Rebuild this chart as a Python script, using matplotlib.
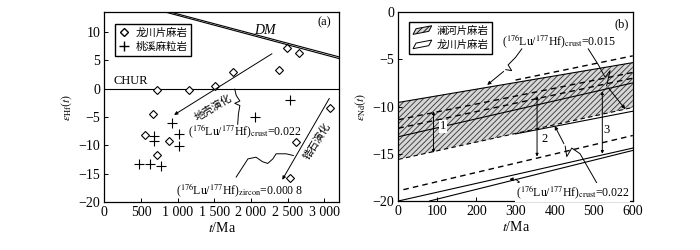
import numpy as np
import matplotlib.pyplot as plt
from matplotlib.patches import Polygon
from matplotlib.lines import Line2D
from matplotlib.legend_handler import HandlerPatch

plt.rcParams['font.family'] = ['Liberation Serif', 'Noto Sans CJK SC']
plt.rcParams['mathtext.fontset'] = 'stix'
plt.rcParams['font.size'] = 9
plt.rcParams['hatch.linewidth'] = 0.6
plt.rcParams['hatch.color'] = '#333333'

# ---------------- panel (a) data ----------------
lc_age = [715, 1158, 1507, 1756, 2380, 2489, 2661, 670, 557, 715, 886, 2615, 2534, 3082]
lc_ehf = [-0.2, -0.2, 0.5, 3.0, 3.3, 7.2, 6.3, -4.5, -8.1, -11.7, -9.2, -9.5, -15.7, -3.4]
tx_age = [918, 679, 679, 1022, 1022, 470, 630, 775, 2063, 2539]
tx_ehf = [-6.1, -8.3, -9.2, -8.0, -10.1, -13.3, -13.3, -13.6, -5.0, -2.0]

dm1_t = [800, 3200]
dm1_e = [13.6, 5.3]
dm2_t = [870, 3200]
dm2_e = [13.6, 5.6]

crust_arrow = [(2320, 6.4), (920, -4.9)]
zircon_arrow = [(3090, -1.3), (2410, -16.5)]
crust_sq_t = [1780, 1800, 1850, 1780, 1850, 1830, 1820]
crust_sq_e = [-0.1, -1.2, -2.2, -2.6, -3.0, -4.5, -6.3]
zircon_sq_t = [1800, 1960, 2070, 2160, 2230, 2300, 2345, 2480, 2580]
zircon_sq_e = [-15.6, -12.4, -12.1, -12.9, -13.2, -12.4, -11.5, -11.5, -11.8]

# ---------------- panel (b) data ----------------
t_b = [0, 600]
band_top = [-9.57, -5.36]
band_bot = [-15.6, -10.1]
mid_solid = [-13.2, -7.5]
dash1 = [-11.4, -6.4]
dash2 = [-12.3, -7.0]
dash_top_t = [300, 600]
dash_top = [-7.2, -4.64]
low_dash_t = [13, 600]
low_dash = [-18.8, -13.07]
low_solid1_t = [0, 600]
low_solid1 = [-20.0, -14.4]
low_solid2_t = [80, 600]
low_solid2 = [-20.0, -14.65]
lo_right_t = [300, 600]
lo_right = [-12.9, -10.5]

range_t = [90, 355, 522]
range_top = [-10.5, -8.9, -8.4]
range_bot = [-14.9, -15.3, -15.0]
range_lab = ['1', '2', '3']
range_lab_t = [115, 373, 533]
range_lab_e = [-12.1, -13.4, -12.5]

sq1_t = [316, 300, 281, 290, 275, 222]
sq1_e = [-3.9, -4.8, -5.6, -6.2, -6.1, -7.9]
sq2_t = [486, 512, 529, 542, 533, 585]
sq2_e = [-3.9, -5.6, -6.9, -6.2, -7.8, -10.5]
sq3_t = [508, 465, 444, 431, 427, 397]
sq3_e = [-18.1, -15.0, -14.4, -15.3, -14.2, -11.8]
sq4_t = [325, 300, 310, 300, 277]
sq4_e = [-18.3, -18.2, -18.0, -17.7, -17.7]


def parallelogram(legend, orig_handle, xdescent, ydescent, width, height, fontsize):
    s = 0.35 * height
    return Polygon([(-xdescent, -ydescent), (-xdescent + width - s, -ydescent + s),
                    (-xdescent + width, -ydescent + height),
                    (-xdescent + s, -ydescent + height - s)], closed=True)


fig = plt.figure(figsize=(7, 2.5), dpi=100)
ax1 = fig.add_axes([0.149, 0.192, 0.335, 0.760])
ax2 = fig.add_axes([0.569, 0.196, 0.335, 0.756])

lab_fs = 8.5

# ---- (a) ----
ax1.axhline(0, color='black', lw=0.8)
ax1.plot(dm1_t, dm1_e, color='black', lw=0.8)
ax1.plot(dm2_t, dm2_e, color='black', lw=0.8)
ax1.plot(lc_age, lc_ehf, 'D', ms=4, mfc='white', mec='black', mew=0.8, ls='none')
ax1.plot(tx_age, tx_ehf, '+', ms=7, color='black', mew=0.8, ls='none')

arrowprops = dict(arrowstyle='-|>', color='black', lw=0.7, mutation_scale=5)
ax1.annotate('', xy=crust_arrow[1], xytext=crust_arrow[0], arrowprops=arrowprops)
ax1.annotate('', xy=zircon_arrow[1], xytext=zircon_arrow[0], arrowprops=arrowprops)
ax1.plot(crust_sq_t, crust_sq_e, color='black', lw=0.7)
ax1.plot(zircon_sq_t, zircon_sq_e, color='black', lw=0.7)

ax1.text(1480, -3.4, '地壳演化', fontsize=7.5, rotation=31, ha='center', va='center',
         family='Noto Sans CJK SC')
ax1.text(2910, -9.3, '锆石演化', fontsize=7.5, rotation=58, ha='center', va='center',
         family='Noto Sans CJK SC')
ax1.text(1920, -7.5, r'($^{176}$Lu/$^{177}$Hf)$_{\rm crust}$=0.022', fontsize=lab_fs,
         ha='center', va='center')
ax1.text(1850, -17.9, r'($^{176}$Lu/$^{177}$Hf)$_{\rm zircon}$=0.000 8', fontsize=lab_fs,
         ha='center', va='center')
ax1.text(130, 1.3, 'CHUR', fontsize=9, ha='left', va='center')
ax1.text(2190, 10.3, 'DM', fontsize=10, style='italic', ha='center', va='center')
ax1.text(3000, 11.6, '(a)', fontsize=9, ha='center', va='center')

ax1.set_xlim(0, 3200)
ax1.set_ylim(-20, 13.5)
ax1.set_xticks([0, 500, 1000, 1500, 2000, 2500, 3000])
ax1.set_xticklabels(['0', '500', '1 000', '1 500', '2 000', '2 500', '3 000'])
ax1.set_yticks([-20, -15, -10, -5, 0, 5, 10])
ax1.set_xlabel(r'$t$/Ma', fontsize=10, labelpad=1)
ax1.set_ylabel(r'$\varepsilon_{\rm Hf}(t)$', fontsize=8.5, labelpad=3)
leg_a = [Line2D([], [], marker='D', ms=4, mfc='white', mec='black', ls='none'),
         Line2D([], [], marker='+', ms=7, color='black', ls='none')]
ax1.legend(leg_a, ['龙川片麻岩', '桃溪麻粒岩'], loc='upper left',
           prop={'family': ['Noto Sans CJK SC'], 'size': 7.5},
           fancybox=False, edgecolor='black', framealpha=1, handlelength=1.0,
           borderpad=0.35, labelspacing=0.4, handletextpad=0.6,
           bbox_to_anchor=(0.025, 0.965))

# ---- (b) ----
band = Polygon([(t_b[0], band_top[0]), (t_b[1], band_top[1]),
                (t_b[1], band_bot[1]), (t_b[0], band_bot[0])],
               closed=True, facecolor='#d6d6d6', edgecolor='#333333', lw=0,
               hatch='//////')
ax2.add_patch(band)
ax2.plot(t_b, band_top, color='black', lw=0.8)
ax2.plot(t_b, mid_solid, color='black', lw=0.8)
ax2.plot(t_b, band_bot, color='black', lw=0.8, ls=(0, (4, 3)))
ax2.plot(lo_right_t, lo_right, color='black', lw=0.8)
ax2.plot(t_b, dash1, color='black', lw=1.0, ls=(0, (4, 3)))
ax2.plot(t_b, dash2, color='black', lw=1.0, ls=(0, (4, 3)))
ax2.plot(dash_top_t, dash_top, color='black', lw=1.0, ls=(0, (4, 3)))
ax2.plot(low_dash_t, low_dash, color='black', lw=1.0, ls=(0, (4, 3)))
ax2.plot(low_solid1_t, low_solid1, color='black', lw=0.8)
ax2.plot(low_solid2_t, low_solid2, color='black', lw=0.8)

rng_props = dict(arrowstyle='<|-|>', color='black', lw=0.7, mutation_scale=4,
                 shrinkA=0, shrinkB=0)
for t, top, bot, lab, lt, le in zip(range_t, range_top, range_bot, range_lab,
                                    range_lab_t, range_lab_e):
    ax2.annotate('', xy=(t, top), xytext=(t, bot), arrowprops=rng_props)
    ax2.text(lt, le, lab, fontsize=9, ha='center', va='center',
             bbox=dict(facecolor='white', edgecolor='none', pad=0.5))

sq_props = dict(arrowstyle='-|>', color='black', lw=0.7, mutation_scale=5)
for st, se in [(sq1_t, sq1_e), (sq2_t, sq2_e), (sq3_t, sq3_e), (sq4_t, sq4_e)]:
    ax2.plot(st[:-1], se[:-1], color='black', lw=0.7)
    ax2.annotate('', xy=(st[-1], se[-1]), xytext=(st[-2], se[-2]), arrowprops=sq_props)

ax2.text(410, -3.1, r'($^{176}$Lu/$^{177}$Hf)$_{\rm crust}$=0.015', fontsize=lab_fs,
         ha='center', va='center')
ax2.text(446, -19.1, r'($^{176}$Lu/$^{177}$Hf)$_{\rm crust}$=0.022', fontsize=lab_fs,
         ha='center', va='center', bbox=dict(facecolor='white', edgecolor='none', pad=0.3))
ax2.text(572, -1.3, '(b)', fontsize=9, ha='center', va='center')

ax2.set_xlim(0, 600)
ax2.set_ylim(-20, 0)
ax2.set_xticks([0, 100, 200, 300, 400, 500, 600])
ax2.set_yticks([-20, -15, -10, -5, 0])
ax2.set_xlabel(r'$t$/Ma', fontsize=10, labelpad=1)
ax2.set_ylabel(r'$\varepsilon_{\rm Nd}(t)$', fontsize=8.5, labelpad=3)

leg_b = [Polygon([(0, 0)], closed=True, facecolor='#d6d6d6', edgecolor='black',
                 hatch='//////', lw=0.7),
         Polygon([(0, 0)], closed=True, facecolor='white', edgecolor='black', lw=0.7)]
ax2.legend(leg_b, ['澜河片麻岩', '龙川片麻岩'], loc='upper left',
           prop={'family': ['Noto Sans CJK SC'], 'size': 7.5},
           handler_map={Polygon: HandlerPatch(patch_func=parallelogram)},
           fancybox=False, edgecolor='black', framealpha=1, handlelength=1.8,
           handleheight=0.9, borderpad=0.35, labelspacing=0.4, handletextpad=0.5,
           bbox_to_anchor=(0.025, 0.975))

for ax in (ax1, ax2):
    ax.tick_params(direction='in', length=3, width=0.7, labelsize=10, pad=3)
    for sp in ax.spines.values():
        sp.set_linewidth(0.9)

fig.savefig('out.png', dpi=100)
